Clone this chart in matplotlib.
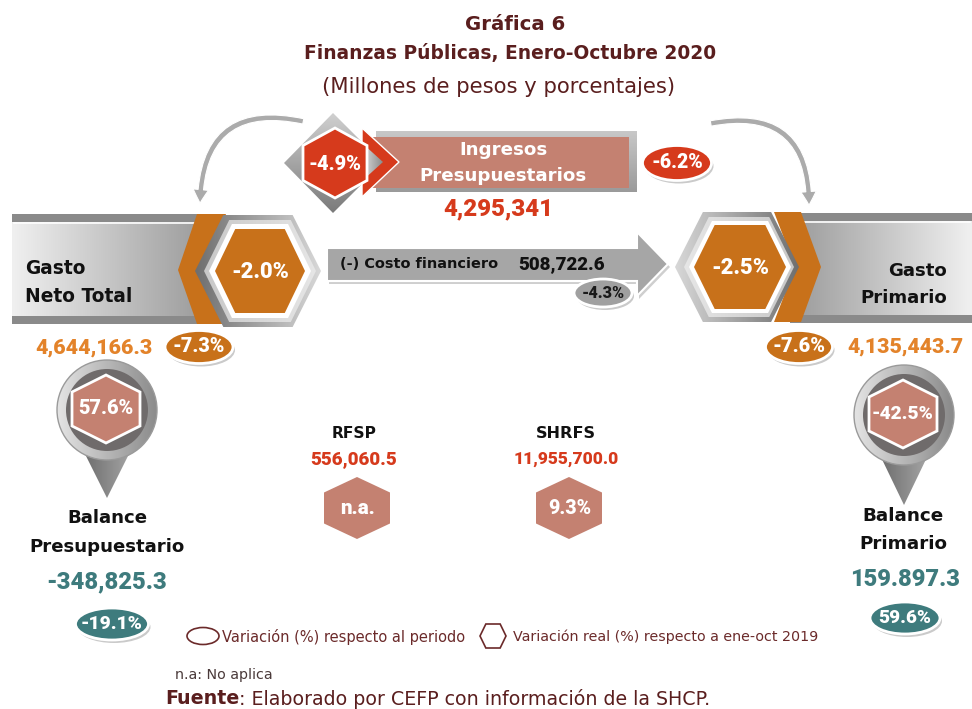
import numpy as np
import matplotlib
matplotlib.use("Agg")
import matplotlib.pyplot as plt
from matplotlib.patches import Polygon, Ellipse, Circle, Rectangle, FancyArrowPatch
from matplotlib.colors import LinearSegmentedColormap
from matplotlib import font_manager

plt.rcParams['font.family'] = ['DejaVu Sans']

# ---------------- data ----------------
title_lines = ["Gráfica 6", "Finanzas Públicas, Enero-Octubre 2020", "(Millones de pesos y porcentajes)"]
ingresos_label = ["Ingresos", "Presupuestarios"]
ingresos_value = "4,295,341"
ingresos_real = "-4.9%"
ingresos_period = "-6.2%"
gasto_labels = [["Gasto", "Neto Total"], ["Gasto", "Primario"]]
gasto_values = ["4,644,166.3", "4,135,443.7"]
gasto_real = ["-2.0%", "-2.5%"]
gasto_period = ["-7.3%", "-7.6%"]
costo_label = "(-) Costo financiero"
costo_value = "508,722.6"
costo_period = "-4.3%"
balance_labels = [["Balance", "Presupuestario"], ["Balance", "Primario"]]
balance_values = ["-348,825.3", "159.897.3"]
balance_real = ["57.6%", "-42.5%"]
balance_period = ["-19.1%", "59.6%"]
mid_labels = ["RFSP", "SHRFS"]
mid_values = ["556,060.5", "11,955,700.0"]
mid_real = ["n.a.", "9.3%"]
legend_texts = ["Variación (%) respecto al periodo", "Variación real (%) respecto a ene-oct 2019"]
note_text = "n.a: No aplica"
source_bold = "Fuente"
source_text = ": Elaborado por CEFP con información de la SHCP."

# ---------------- colours ----------------
ORANGE = "#C8711A"
ORANGE_T = "#E3832A"
RED = "#D63A1C"
SALMON = "#C48171"
TEAL = "#3E7B7D"
BROWN = "#5A1E1E"
GRAY = "#A6A6A6"


# pick a genuinely bold, narrow-digit face for the numbers
def _find_bold(names):
    for nm in names:
        for f in font_manager.fontManager.ttflist:
            w = f.weight if isinstance(f.weight, int) else (700 if f.weight == 'bold' else 400)
            if f.name == nm and w >= 700 and f.style == 'normal':
                return f.fname
    return None


_bold_file = _find_bold(['Roboto', 'Open Sans', 'Lato', 'Noto Sans', 'Liberation Sans'])
NUM_PROPS = (dict(fontproperties=font_manager.FontProperties(fname=_bold_file))
             if _bold_file else dict(fontweight='bold'))

fig = plt.figure(figsize=(9.72, 7.09), dpi=100)
ax = fig.add_axes([0, 0, 1, 1])
ax.set_xlim(0, 972)
ax.set_ylim(709, 0)
ax.set_autoscale_on(False)
ax.axis('off')
R = fig.canvas.get_renderer()


def ftext(x, y, s, w, ha='center', **kw):
    """text whose width is fitted to w pixels"""
    t = ax.text(x, y, s, ha=ha, va='center', **kw)
    t.set_fontsize(12)
    bw = t.get_window_extent(renderer=R).width
    t.set_fontsize(12 * w / bw)
    return t


def ntext(x, y, s, w, ha='center', **kw):
    return ftext(x, y, s, w, ha=ha, **NUM_PROPS, **kw)


def ftext_pair(x, y1, y2, s1, s2, w, ha='center', **kw):
    t1 = ax.text(x, y1, s1, ha=ha, va='center', fontsize=12, **kw)
    t2 = ax.text(x, y2, s2, ha=ha, va='center', fontsize=12, **kw)
    bw = max(t1.get_window_extent(renderer=R).width, t2.get_window_extent(renderer=R).width)
    t1.set_fontsize(12 * w / bw)
    t2.set_fontsize(12 * w / bw)


def grad_patch(patch, c1, c2, horizontal=True, z=1):
    patch.set_facecolor('none')
    patch.set_edgecolor('none')
    patch.set_zorder(z)
    ax.add_patch(patch)
    ext = patch.get_path().transformed(patch.get_patch_transform()).get_extents()
    x0, y0, x1, y1 = ext.x0, ext.y0, ext.x1, ext.y1
    g = np.linspace(0, 1, 256)
    arr = g[None, :] if horizontal else g[:, None]
    cmap = LinearSegmentedColormap.from_list('g', [c1, c2])
    im = ax.imshow(arr, cmap=cmap, extent=(x0, x1, y1, y0), aspect='auto',
                   zorder=z, interpolation='bilinear', origin='upper')
    im.set_clip_path(patch)
    return im


def hex_flat(cx, cy, hw, hh, k=0.55):
    return [(cx - hw, cy), (cx - hw * k, cy - hh), (cx + hw * k, cy - hh),
            (cx + hw, cy), (cx + hw * k, cy + hh), (cx - hw * k, cy + hh)]


def hex_pointy(cx, cy, hw, hh):
    return [(cx, cy - hh), (cx + hw, cy - hh / 2), (cx + hw, cy + hh / 2),
            (cx, cy + hh), (cx - hw, cy + hh / 2), (cx - hw, cy - hh / 2)]


def badge(cx, cy, w, h, color, text, tw, tcolor='white', z=10):
    ax.add_patch(Ellipse((cx + 2, cy + 3), w, h, fc='#00000035', ec='none', zorder=z))
    ax.add_patch(Ellipse((cx, cy), w, h, fc=color, ec='white', lw=2, zorder=z + 1))
    ntext(cx, cy, text, tw, color=tcolor, zorder=z + 2)


# ---------------- title ----------------
ftext(515, 24, title_lines[0], 100, fontweight='bold', color=BROWN)
ftext(510, 53, title_lines[1], 410, fontweight='bold', color=BROWN)
ftext(499, 87, title_lines[2], 353, color=BROWN)

# ---------------- curved arrows ----------------
for (a, b, r) in [((306, 122), (200, 206), 0.62), ((708, 124), (809, 208), -0.62)]:
    arr = FancyArrowPatch(a, b, connectionstyle=f'arc3,rad={r}',
                          arrowstyle='simple,head_length=0.7,head_width=0.8,tail_width=0.28',
                          mutation_scale=14, fc='#ababab', ec='white', lw=0.8, zorder=3)
    ax.add_patch(arr)

# ---------------- left gray band ----------------
ax.add_patch(Rectangle((12, 214), 195, 110, fc='#8a8a8a', ec='none', zorder=1))
grad_patch(Rectangle((12, 222), 195, 94), '#f0f0f0', '#9a9a9a', True, z=1.5)
ax.plot([14, 200], [223, 223], color='white', lw=1.2, zorder=1.6)
ftext_pair(25, 269, 296, gasto_labels[0][0], gasto_labels[0][1], 107, ha='left',
           fontweight='bold', color='#111111', zorder=5)

# left orange chevron
ax.add_patch(Polygon([(197, 214), (226, 214), (206, 270), (226, 324), (197, 324), (178, 270)],
                     closed=True, fc=ORANGE, ec='none', zorder=2))
# left hex rings
grad_patch(Polygon(hex_flat(258, 271, 63, 56)), '#6e6e6e', '#d8d8d8', True, z=3)
grad_patch(Polygon(hex_flat(260, 271, 56, 51)), '#c8c8c8', '#e6e6e6', True, z=3.2)
ax.add_patch(Polygon(hex_flat(260, 271, 51, 47), closed=True, fc='white', ec='none', zorder=3.4))
ax.add_patch(Polygon(hex_flat(260, 271, 45, 42), closed=True, fc=ORANGE, ec='none', zorder=3.6))
ntext(260, 272, gasto_real[0], 58, color='white', zorder=4)

# ---------------- right gray band ----------------
ax.add_patch(Rectangle((790, 213), 182, 110, fc='#8a8a8a', ec='none', zorder=1))
grad_patch(Rectangle((790, 221), 182, 94), '#9a9a9a', '#f0f0f0', True, z=1.5)
ax.plot([800, 970], [222, 222], color='white', lw=1.2, zorder=1.6)
ftext_pair(947, 271, 298, gasto_labels[1][0], gasto_labels[1][1], 87, ha='right',
           fontweight='bold', color='#111111', zorder=5)

ax.add_patch(Polygon([(774, 212), (801, 212), (821, 267), (801, 322), (774, 322), (795, 267)],
                     closed=True, fc=ORANGE, ec='none', zorder=2))
grad_patch(Polygon(hex_flat(737, 267, 62, 55)), '#d8d8d8', '#6e6e6e', True, z=3)
grad_patch(Polygon(hex_flat(739, 267, 55, 50)), '#e6e6e6', '#c8c8c8', True, z=3.2)
ax.add_patch(Polygon(hex_flat(740, 267, 51, 46), closed=True, fc='white', ec='none', zorder=3.4))
ax.add_patch(Polygon(hex_flat(740, 267, 46, 42), closed=True, fc=ORANGE, ec='none', zorder=3.6))
ntext(740, 268, gasto_real[1], 58, color='white', zorder=4)

# ---------------- middle arrow (costo financiero) ----------------
ax.add_patch(Polygon([(329, 251), (639, 251), (639, 235), (670, 267), (639, 299), (639, 284), (329, 284)],
                     closed=True, fc='#00000030', ec='none', zorder=2))
ax.add_patch(Polygon([(327, 248), (637, 248), (637, 232), (668, 264), (637, 296), (637, 281), (327, 281)],
                     closed=True, fc=GRAY, ec='white', lw=1.5, zorder=2.5))
ftext(340, 264, costo_label, 157, ha='left', fontweight='bold', color='#111111', zorder=5)
ntext(518, 264, costo_value, 87, ha='left', color='#111111', zorder=5)
badge(603, 293, 58, 28, '#a0a0a0', costo_period, 43, tcolor='#1a1a1a')

# ---------------- ingresos ----------------
grad_patch(Polygon([(333, 113), (383, 163), (333, 213), (284, 163)]), '#d0d0d0', '#7a7a7a', False, z=2)
grad_patch(Rectangle((376, 131), 260, 61), '#c8c8c8', '#9a9a9a', False, z=2)
ax.add_patch(Rectangle((372, 137), 257, 51, fc=SALMON, ec='none', zorder=2.5))
ax.add_patch(Polygon([(362, 128), (399, 162), (362, 197)], closed=True, fc=RED, ec='white', lw=1, zorder=3))
grad_patch(Polygon([(362, 143), (383, 162), (362, 181)]), '#e0e0e0', '#8a8a8a', True, z=3.2)
ax.add_patch(Polygon(hex_pointy(335, 163, 32, 35), closed=True, fc=RED, ec='white', lw=2, zorder=4))
ntext(335, 164, ingresos_real, 53, color='white', zorder=5)
ftext_pair(503, 150, 176, ingresos_label[0], ingresos_label[1], 167,
           color='white', fontweight='bold', zorder=5)
ntext(498, 209, ingresos_value, 110, color=RED, zorder=5)
badge(677, 163, 69, 35, RED, ingresos_period, 52)

# ---------------- values below gasto ----------------
ntext(94, 348, gasto_values[0], 117, color=ORANGE_T)
badge(199, 347, 68, 33, ORANGE, gasto_period[0], 52)
badge(799, 347, 67, 33, ORANGE, gasto_period[1], 53)
ntext(905, 347, gasto_values[1], 116, color=ORANGE_T)


# ---------------- pins ----------------
def pin(cx, cy, tip_y, txt, tw):
    grad_patch(Polygon([(cx - 26, cy + 36), (cx + 26, cy + 36), (cx, tip_y)]), '#6a6a6a', '#a8a8a8', True, z=2)
    grad_patch(Circle((cx, cy), 50), '#e4e4e4', '#8a8a8a', True, z=2.5)
    ax.add_patch(Circle((cx, cy), 50, fc='none', ec='#9a9a9a', lw=1, zorder=2.6))
    ax.add_patch(Circle((cx, cy), 41, fc='#6f6b6b', ec='none', zorder=3))
    ax.add_patch(Polygon(hex_pointy(cx - 1, cy - 1, 34, 34), closed=True, fc=SALMON, ec='white', lw=2, zorder=4))
    ntext(cx - 1, cy - 1, txt, tw, color='white', zorder=5)


pin(107, 410, 498, balance_real[0], 55)
pin(904, 415, 505, balance_real[1], 62)

ftext_pair(107, 518, 547, balance_labels[0][0], balance_labels[0][1], 155,
           fontweight='bold', color='#111111')
ntext(107, 582, balance_values[0], 120, color=TEAL)
badge(112, 624, 73, 32, TEAL, balance_period[0], 62)

ftext_pair(903, 516, 544, balance_labels[1][0], balance_labels[1][1], 88,
           fontweight='bold', color='#111111')
ntext(905, 580, balance_values[1], 110, color=TEAL)
badge(905, 618, 70, 32, TEAL, balance_period[1], 53)

# ---------------- RFSP / SHRFS ----------------
mid_w = [(45, 87, 35), (60, 105, 43)]
for cx, lab, val, rv, (w1, w2, w3) in zip([354, 566], mid_labels, mid_values, mid_real, mid_w):
    ftext(cx, 433, lab, w1, fontweight='bold', color='#111111')
    ntext(cx, 459, val, w2, color=RED)
    ax.add_patch(Polygon(hex_pointy(cx + 3, 508, 33, 31), closed=True, fc=SALMON, ec='none', zorder=3))
    ntext(cx + 4, 509, rv, w3, color='white', zorder=4)

# ---------------- legend / notes ----------------
LEG = "#6B2A2A"
ax.add_patch(Ellipse((203, 636), 32, 17, fc='none', ec=LEG, lw=1.2))
ftext(222, 637, legend_texts[0], 241, ha='left', color=LEG)
ax.add_patch(Polygon(hex_flat(493, 636, 13, 12), closed=True, fc='none', ec=LEG, lw=1.2))
ftext(513, 637, legend_texts[1], 305, ha='left', color=LEG)
ftext(175, 675, note_text, 97, ha='left', color='#4a3a3a')

t1 = ax.text(165, 699, source_bold, fontsize=12, fontweight='bold', color=BROWN, ha='left', va='center')
t2 = ax.text(0, 699, source_text, fontsize=12, color=BROWN, ha='left', va='center')
w1 = t1.get_window_extent(renderer=R).width
w2 = t2.get_window_extent(renderer=R).width
sc = 542 / (w1 + w2)
t1.set_fontsize(12 * sc)
t2.set_fontsize(12 * sc)
t2.set_x(165 + w1 * sc)

fig.savefig("out.png", dpi=100)
